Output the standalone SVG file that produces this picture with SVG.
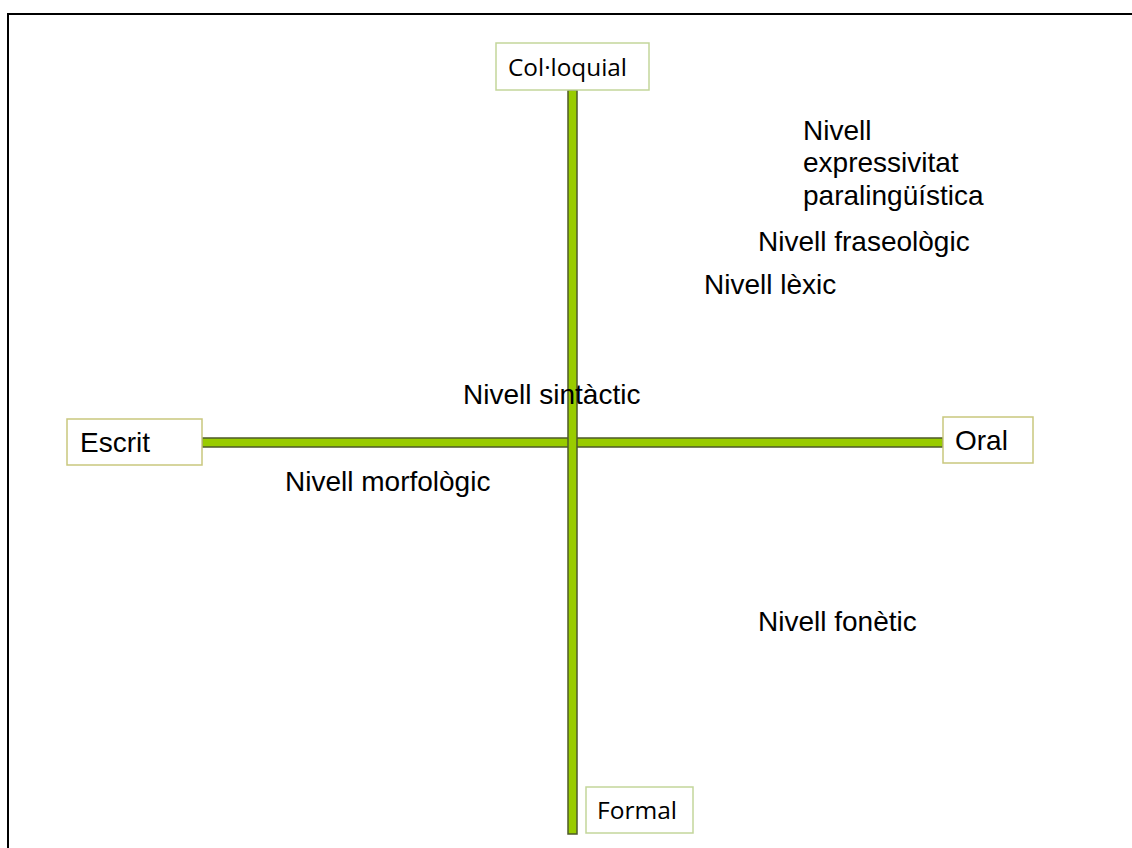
<svg xmlns="http://www.w3.org/2000/svg" width="1132" height="848" viewBox="0 0 1132 848">
  <style>
    .axis { fill: #99cc00; stroke: #4d5a2a; stroke-width: 1.5; }
    .boxA { fill: #ffffff; stroke: #c3d69b; stroke-width: 1.5; }
    .boxB { fill: #ffffff; stroke: #c9c77e; stroke-width: 1.5; }
    .lbl { font-family: "Liberation Sans", Arial, sans-serif; font-size: 28px; fill: #000000; }
    .cal { font-family: "Open Sans", "Noto Sans", sans-serif; font-size: 24px; fill: #000000; }
  </style>

  <!-- page frame -->
  <rect x="8" y="14" width="1140" height="850" fill="#ffffff" stroke="#000000" stroke-width="2"/>

  <!-- axes -->
  <g id="connectors">
    <rect class="axis" x="202" y="438" width="741" height="9"/>
    <rect class="axis" x="568" y="90" width="9" height="744"/>
  </g>

  <g id="node-colloquial">
    <rect class="boxA" x="496" y="43" width="153" height="47"/>
    <text class="cal" x="508" y="76" textLength="119" lengthAdjust="spacingAndGlyphs">Col·loquial</text>
  </g>

  <g id="node-formal">
    <rect class="boxA" x="586" y="787" width="107" height="46"/>
    <text class="cal" x="597" y="819" textLength="80" lengthAdjust="spacingAndGlyphs">Formal</text>
  </g>

  <g id="node-escrit">
    <rect class="boxB" x="67" y="419" width="135" height="46"/>
    <text class="lbl" x="80" y="452">Escrit</text>
  </g>

  <g id="node-oral">
    <rect class="boxB" x="943" y="417" width="90" height="46"/>
    <text class="lbl" x="955" y="450">Oral</text>
  </g>

  <!-- level labels -->
  <g id="levels">
    <text class="lbl" x="803" y="140">Nivell</text>
    <text class="lbl" x="803" y="172">expressivitat</text>
    <text class="lbl" x="803" y="205">paralingüística</text>
    <text class="lbl" x="758" y="251">Nivell fraseològic</text>
    <text class="lbl" x="704" y="294">Nivell lèxic</text>
    <text class="lbl" x="463" y="404">Nivell sintàctic</text>
    <text class="lbl" x="285" y="491">Nivell morfològic</text>
    <text class="lbl" x="758" y="631">Nivell fonètic</text>
  </g>
</svg>
